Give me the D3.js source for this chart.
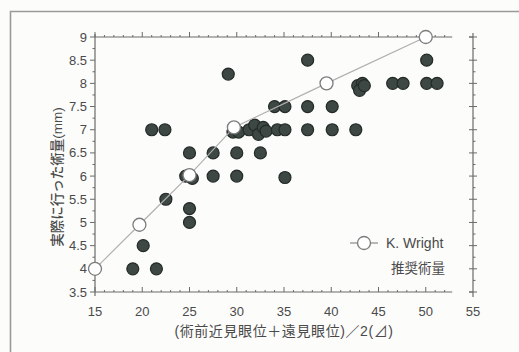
<!DOCTYPE html>
<html>
<head>
<meta charset="utf-8">
<script src="https://cdn.jsdelivr.net/npm/d3@7"></script>
<style>
  html, body { margin: 0; padding: 0; background: #fcfcfb; }
  svg { display: block; }
  text { font-family: "Liberation Sans", "Noto Sans CJK JP", sans-serif; fill: #4a4a4a; }
</style>
</head>
<body>
<svg id="chart" width="519" height="352"></svg>
<script>
// Measured correction (x: mean of near/distance deviation, y: surgical amount in mm)
const measuredX = [19, 21.5, 20.1, 22.5, 25, 25, 24.6, 25.3, 27.5, 30, 35.1,
  25, 27.5, 30, 32.5,
  21, 22.4, 29.6, 30.2, 31.3, 31.9, 32.3, 32.8, 33.1, 34.3, 35.1, 37.5, 40.1, 42.6,
  34, 35.1, 37.5, 40.1,
  29.1, 42.8, 43.3, 43.0, 43.5, 46.5, 47.6, 50.1, 51.2,
  37.5, 50.1];
const measuredY = [4, 4, 4.5, 5.5, 5.3, 5, 6, 5.95, 6, 6, 5.97,
  6.5, 6.5, 6.5, 6.5,
  7, 7, 6.95, 6.95, 7.0, 7.1, 6.9, 7.05, 6.97, 7, 7, 7, 7, 7,
  7.5, 7.5, 7.5, 7.5,
  8.2, 7.95, 8.0, 7.85, 7.95, 8, 8, 8, 8,
  8.5, 8.5];

// K. Wright recommended amounts
const wrightX = [15, 19.7, 25, 29.7, 39.5, 50];
const wrightY = [4, 4.95, 6.02, 7.05, 8.0, 9.0];

const xTicks = [15, 20, 25, 30, 35, 40, 45, 50, 55];
const yTicks = [3.5, 4, 4.5, 5, 5.5, 6, 6.5, 7, 7.5, 8, 8.5, 9];

const xTitle = "(術前近見眼位＋遠見眼位)／2(⊿)";
const yTitle = "実際に行った術量(mm)";
const legendLines = ["K. Wright", "推奨術量"];

const svg = d3.select("#chart");
const axisColor = "#6a6a6a";

// outer frame (top and left edges)
svg.append("path")
  .attr("d", "M10.5,352 V11.5 H519")
  .attr("fill", "none").attr("stroke", "#9a9a9a").attr("stroke-width", 1.6);

const x = d3.scaleLinear().domain([15, 55]).range([95, 473]);
const y = d3.scaleLinear().domain([3.5, 9]).range([292, 37]);

const g = svg.append("g");

const minorY = d3.range(3.5, 9.001, 0.25);
const minorX = d3.range(15, 55.001, 1);
const isMajorY = d => Math.abs(d * 2 - Math.round(d * 2)) < 1e-6;

// left axis
g.append("line").attr("x1", x(15)).attr("x2", x(15)).attr("y1", y(3.5) + 4).attr("y2", y(9) - 3)
  .attr("stroke", axisColor).attr("stroke-width", 1.2);
g.selectAll(".ly").data(minorY).join("line")
  .attr("x1", d => x(15) - (isMajorY(d) ? 5 : 2.5))
  .attr("x2", x(15))
  .attr("y1", d => y(d)).attr("y2", d => y(d))
  .attr("stroke", axisColor).attr("stroke-width", 1);

// right axis
g.append("line").attr("x1", x(55)).attr("x2", x(55)).attr("y1", y(3.5) + 5).attr("y2", y(9) - 4)
  .attr("stroke", axisColor).attr("stroke-width", 1.2);
g.selectAll(".ry").data(minorY).join("line")
  .attr("x1", d => x(55) - (isMajorY(d) ? 4 : 0))
  .attr("x2", d => x(55) + (isMajorY(d) ? 4 : 2.5))
  .attr("y1", d => y(d)).attr("y2", d => y(d))
  .attr("stroke", axisColor).attr("stroke-width", 1);

// bottom and top axes (line stops short of the right axis)
[y(3.5), y(9)].forEach((yy, i) => {
  g.append("line").attr("x1", x(15)).attr("x2", x(52.8)).attr("y1", yy).attr("y2", yy)
    .attr("stroke", axisColor).attr("stroke-width", 1.1);
  g.selectAll(".t" + i).data(minorX.filter(d => d <= 52.8)).join("line")
    .attr("x1", d => x(d)).attr("x2", d => x(d))
    .attr("y1", yy)
    .attr("y2", d => yy - (d % 5 === 0 ? 5 : 2))
    .attr("stroke", axisColor).attr("stroke-width", 1);
  g.append("line").attr("x1", x(55) - 4).attr("x2", x(55)).attr("y1", yy).attr("y2", yy)
    .attr("stroke", axisColor).attr("stroke-width", 1);
});

// tick labels
g.selectAll(".yl").data(yTicks).join("text")
  .attr("x", x(15) - 8).attr("y", d => y(d))
  .attr("dy", "0.35em").attr("text-anchor", "end")
  .attr("font-size", 13).attr("fill", "#555")
  .text(d => d);
g.selectAll(".xl").data(xTicks).join("text")
  .attr("x", d => x(d)).attr("y", y(3.5) + 24)
  .attr("text-anchor", "middle").attr("font-size", 13).attr("fill", "#555")
  .text(d => d);

// axis titles
svg.append("text").attr("x", 284).attr("y", 336).attr("text-anchor", "middle")
  .attr("font-size", 14).attr("font-family", "Noto Sans CJK JP")
  .attr("letter-spacing", 0.6).attr("fill", "#444")
  .text(xTitle);
svg.append("text").attr("transform", "translate(62,177) rotate(-90)")
  .attr("text-anchor", "middle").attr("font-size", 13.5).attr("font-family", "Noto Sans CJK JP")
  .attr("font-weight", 500).attr("fill", "#3a3a3a")
  .text(yTitle);

// measured points
g.selectAll(".m").data(measuredX.map((v, i) => [v, measuredY[i]])).join("circle")
  .attr("cx", d => x(d[0])).attr("cy", d => y(d[1])).attr("r", 6)
  .attr("fill", "#3d4743").attr("stroke", "#232a27").attr("stroke-width", 1.2);

// Wright guideline
const wrightPts = wrightX.map((v, i) => [v, wrightY[i]]);
g.append("path")
  .attr("d", d3.line().x(d => x(d[0])).y(d => y(d[1]))(wrightPts))
  .attr("fill", "none").attr("stroke", "#b0b0b0").attr("stroke-width", 1.2);
g.selectAll(".w").data(wrightPts).join("circle")
  .attr("cx", d => x(d[0])).attr("cy", d => y(d[1])).attr("r", 6.5)
  .attr("fill", "#ffffff").attr("stroke", "#7c7c7c").attr("stroke-width", 1.3);

// legend
const lg = svg.append("g").attr("transform", "translate(364,243)");
lg.append("line").attr("x1", -14).attr("x2", 14).attr("y1", 0).attr("y2", 0)
  .attr("stroke", "#8a8a8a").attr("stroke-width", 1.2);
lg.append("circle").attr("r", 6.5).attr("fill", "#fff").attr("stroke", "#7c7c7c").attr("stroke-width", 1.3);
lg.append("text").attr("x", 22).attr("y", 0).attr("dy", "0.35em").attr("font-size", 14)
  .text(legendLines[0]);
lg.append("text").attr("x", 54).attr("y", 25).attr("dy", "0.35em").attr("text-anchor", "middle")
  .attr("font-size", 13.5).attr("font-family", "Noto Sans CJK JP")
  .text(legendLines[1]);
</script>
</body>
</html>
